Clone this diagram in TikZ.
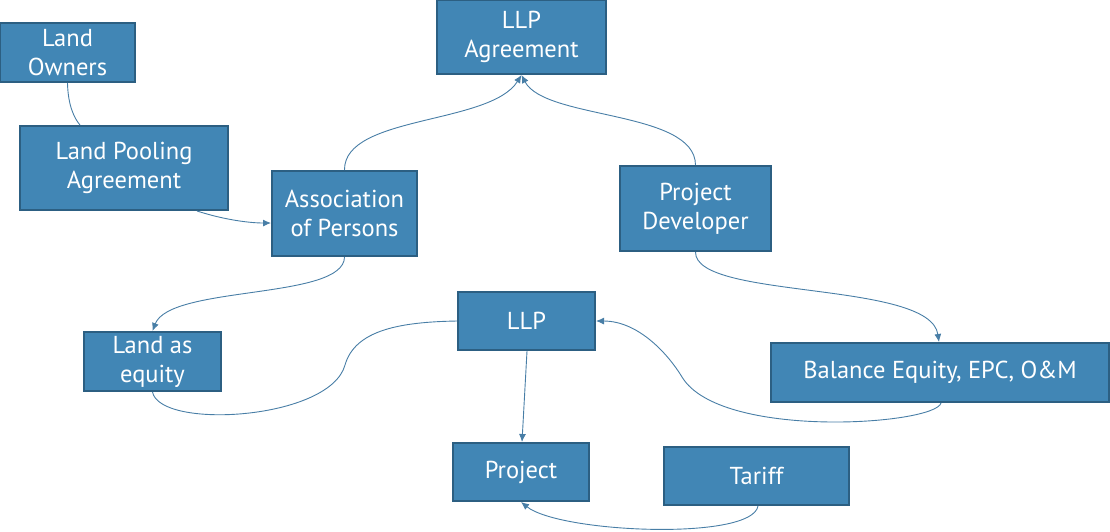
\documentclass[tikz,border=0pt]{standalone}
\usepackage{fontspec}
\setmainfont{PT Sans}
\usetikzlibrary{shapes,arrows.meta}

\definecolor{boxfill}{RGB}{65,134,181}
\definecolor{boxline}{RGB}{44,95,130}
\definecolor{linkcol}{RGB}{72,126,166}

\begin{document}
\begin{tikzpicture}[x=1pt, y=-1pt,
    block/.style={rectangle, draw=boxline, line width=2pt, fill=boxfill,
      text=white, align=center, inner sep=0pt,
      font=\fontsize{24.5}{29}\selectfont},
    link/.style={draw=linkcol, line width=0.9pt},
    tip/.style={-{Latex[length=8pt,width=7pt]}}]
    \useasboundingbox (0,0) rectangle (1110,531);
    \node[block, minimum width=135pt, minimum height=59pt] (LO) at (67.5,52.5) {Land\\Owners};
    \node[block, minimum width=208pt, minimum height=84pt] (LPA) at (124,168) {Land Pooling\\Agreement};
    \node[block, minimum width=145pt, minimum height=85pt] (AOP) at (344.5,213.5) {Association\\of Persons};
    \node[block, minimum width=169pt, minimum height=74pt] (LLPA) at (521.5,37) {LLP\\Agreement};
    \node[block, minimum width=151pt, minimum height=85pt] (PD) at (695.5,208.5) {Project\\Developer};
    \node[block, minimum width=137pt, minimum height=58pt] (LLP) at (526.5,321) {LLP};
    \node[block, minimum width=137pt, minimum height=59pt] (LAE) at (152.5,361.5) {Land as\\equity};
    \node[block, minimum width=338pt, minimum height=59pt] (BE) at (940,372.5) {Balance Equity, EPC, O\&M};
    \node[block, minimum width=136pt, minimum height=58pt] (P) at (521,472) {Project};
    \node[block, minimum width=185pt, minimum height=58pt] (T) at (756.5,476) {Tariff};
    \draw[link] (LO.south) .. controls (68,105) and (74,118) .. ([xshift=-44pt]LPA.north);
    \draw[link, tip] ([xshift=73pt]LPA.south) .. controls (225,220) and (250,223) .. ([yshift=-9.5pt]AOP.west);
    \draw[link, tip] (AOP.north) .. controls (344,115) and (490,125) .. (LLPA.south);
    \draw[link, tip] (PD.north) .. controls (695,110) and (545,120) .. (LLPA.south);
    \draw[link, tip] (AOP.south) .. controls (344,300) and (170,285) .. (LAE.north);
    \draw[link, tip] (PD.south) .. controls (695,300) and (930,280) .. ([xshift=-1pt]BE.north);
    \draw[link] (LAE.south) .. controls (160,430) and (330,420) .. (345,365)
          .. controls (355,330) and (400,322) .. (LLP.west);
    \draw[link, tip] ([xshift=1pt]BE.south) .. controls (935,425) and (720,440) .. (682,377)
          .. controls (670,357) and (640,321) .. (LLP.east);
    \draw[link, tip] ([xshift=0.5pt]LLP.south) -- ([xshift=1pt]P.north);
    \draw[link, tip] ([xshift=1.5pt]T.south) .. controls (752,541) and (560,533) .. (P.south);
\end{tikzpicture}
\end{document}
